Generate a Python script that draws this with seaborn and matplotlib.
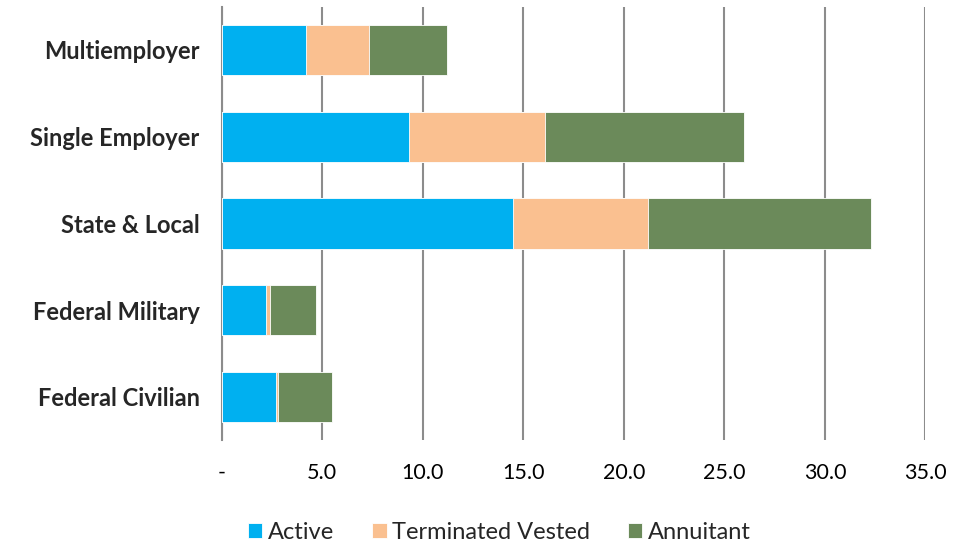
import pandas as pd
import matplotlib.pyplot as plt
import seaborn as sns

# Values (millions of participants)
sectors = ['Multiemployer', 'Single Employer', 'State & Local', 'Federal Military', 'Federal Civilian']
active = [4.2, 9.3, 14.5, 2.2, 2.7]
terminated_vested = [3.1, 6.8, 6.7, 0.2, 0.1]
annuitant = [3.9, 9.9, 11.1, 2.3, 2.7]

series = ['Active', 'Terminated Vested', 'Annuitant']
colors = {'Active': '#00B0F0', 'Terminated Vested': '#FAC090', 'Annuitant': '#6B8A5A'}

df = pd.DataFrame({'sector': sectors, 'Active': active,
                   'Terminated Vested': terminated_vested, 'Annuitant': annuitant})
# cumulative ends for stacking
df['cum_active'] = df['Active']
df['cum_tv'] = df['cum_active'] + df['Terminated Vested']
df['cum_ann'] = df['cum_tv'] + df['Annuitant']

sns.set_style("white")
plt.rcParams['font.family'] = ['Lato', 'DejaVu Sans']

fig = plt.figure(figsize=(9.56, 5.43), dpi=100)
ax = fig.add_axes([0.232, 0.189, 0.736, 0.799])

# draw the longest segment first, shorter ones on top
for col, name in [('cum_ann', 'Annuitant'), ('cum_tv', 'Terminated Vested'), ('cum_active', 'Active')]:
    sns.barplot(data=df, y='sector', x=col, order=sectors, color=colors[name], saturation=1,
                width=0.58, edgecolor='white', linewidth=0.6, ax=ax, label=name, zorder=3)

ax.set_xlim(0, 35)
ax.set_xticks(range(0, 36, 5))
ax.set_xticklabels(['-'] + [f'{v:.1f}' for v in range(5, 36, 5)], fontsize=15.5)
ax.xaxis.grid(True, color='#8C8C8C', linewidth=1.5, zorder=0)
ax.set_axisbelow(True)
for s in ['top', 'right', 'bottom']:
    ax.spines[s].set_visible(False)
ax.spines['left'].set_color('#8C8C8C')
ax.spines['left'].set_linewidth(1.5)
ax.tick_params(axis='x', length=5, color='#8C8C8C', width=1.2, pad=11, labelcolor='black')
ax.tick_params(axis='y', length=0, pad=16)
for lbl in ax.get_yticklabels():
    lbl.set_fontweight('bold')
    lbl.set_fontsize(17)
ax.set_xlabel('')
ax.set_ylabel('')

handles, labels = ax.get_legend_handles_labels()
order = [labels.index(n) for n in series]
ax.legend([handles[i] for i in order], series, loc='center',
          bbox_to_anchor=(0.395, -0.213), ncol=3, frameon=False, fontsize=17,
          handlelength=0.6, handleheight=0.6, handletextpad=0.25, columnspacing=1.6)

plt.savefig('out.png', dpi=100)
